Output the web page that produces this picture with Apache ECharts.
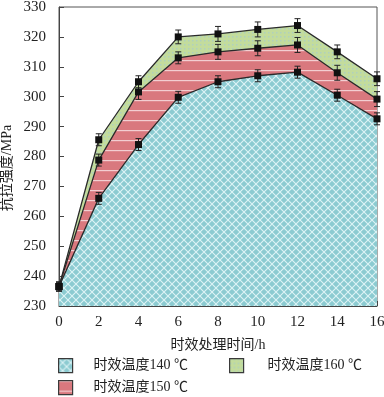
<!DOCTYPE html>
<html><head><meta charset="utf-8">
<script src="https://cdn.jsdelivr.net/npm/echarts@6/dist/echarts.min.js"></script>
<style>html,body{margin:0;padding:0;background:#fff}#c{width:384px;height:397px}</style>
</head><body><div id="c"></div>
<script>
var hours = [0, 2, 4, 6, 8, 10, 12, 14, 16];
var t140 = [236.5, 266.0, 284.0, 299.8, 305.0, 307.0, 308.2, 300.5, 292.6];
var t150 = [236.5, 278.8, 301.6, 313.0, 315.0, 316.2, 317.3, 308.0, 299.2];
var t160 = [236.5, 285.6, 305.0, 320.0, 321.0, 322.5, 323.8, 315.0, 306.0];
var e140 = [1.5, 2.0, 2.0, 2.0, 2.0, 2.0, 2.0, 2.0, 2.0];
var e150 = [1.5, 2.0, 2.5, 2.0, 2.5, 2.5, 2.5, 2.5, 2.5];
var e160 = [1.5, 2.0, 2.0, 2.3, 2.5, 2.5, 2.3, 2.3, 2.3];
var names = ['时效温度140 ℃', '时效温度150 ℃', '时效温度160 ℃'];
var yTitle = '抗拉强度/MPa';
var xTitle = '时效处理时间/h';
var yTicks = [230, 330, 10];
var xTicks = [0, 16, 2];

function mk(w, h, draw) {
  var c = document.createElement('canvas'); c.width = w; c.height = h;
  var g = c.getContext('2d'); draw(g, w, h); return c;
}
var patBlue = mk(8, 8, function (g, w, h) {
  g.fillStyle = '#8ccbd1'; g.fillRect(0, 0, w, h);
  g.strokeStyle = 'rgba(235,250,252,0.85)'; g.lineWidth = 1.1;
  g.beginPath();
  g.moveTo(-1, -1); g.lineTo(w + 1, h + 1);
  g.moveTo(-1, h + 1); g.lineTo(w + 1, -1);
  g.stroke();
});
var patRed = mk(8, 10, function (g, w, h) {
  g.fillStyle = '#d9787e'; g.fillRect(0, 0, w, h);
  g.fillStyle = 'rgba(245,215,218,0.9)'; g.fillRect(0, 0, w, 1.2);
});
var patGreen = mk(4, 4, function (g, w, h) {
  g.fillStyle = '#c3dc9c'; g.fillRect(0, 0, w, h);
  g.fillStyle = 'rgba(170,205,200,0.8)'; g.fillRect(0, 0, 1.5, 1.5);
});
var fills = [{ image: patBlue, repeat: 'repeat' }, { image: patRed, repeat: 'repeat' }, { image: patGreen, repeat: 'repeat' }];
var vals = [t140, t150, t160];
var errs = [e140, e150, e160];

function pairs(v) { return hours.map(function (h, i) { return [h, v[i]]; }); }

var series = [];
[2, 1, 0].forEach(function (k, order) {
  series.push({
    name: names[k], type: 'line', data: pairs(vals[k]), z: 2 + order,
    symbol: 'none', smooth: false,
    lineStyle: { color: '#2a2a2a', width: 1.3 },
    itemStyle: { color: '#333' },
    areaStyle: { color: fills[k], opacity: 1, origin: 'start' },
    silent: true
  });
});
var errData = [];
[0, 1, 2].forEach(function (k) {
  hours.forEach(function (h, i) { errData.push([h, vals[k][i], errs[k][i]]); });
});
series.push({
  type: 'custom', z: 10, silent: true,
  data: errData,
  renderItem: function (params, api) {
    var x = api.value(0), y = api.value(1), e = api.value(2);
    var top = api.coord([x, y + e]), bot = api.coord([x, y - e]), c = api.coord([x, y]);
    var st = { stroke: '#222', lineWidth: 1 };
    return {
      type: 'group', children: [
        { type: 'line', shape: { x1: top[0], y1: top[1], x2: bot[0], y2: bot[1] }, style: st },
        { type: 'line', shape: { x1: top[0] - 3, y1: top[1], x2: top[0] + 3, y2: top[1] }, style: st },
        { type: 'line', shape: { x1: bot[0] - 3, y1: bot[1], x2: bot[0] + 3, y2: bot[1] }, style: st },
        { type: 'rect', shape: { x: c[0] - 3.5, y: c[1] - 3.5, width: 7, height: 7 }, style: { fill: '#111' } }
      ]
    };
  }
});

var cjk = '"Liberation Serif", "Noto Sans CJK SC", serif';
function lg(name, left, top, pad) {
  return {
    left: left, top: top, orient: 'horizontal', itemWidth: 14, itemHeight: 14, itemGap: 0, padding: 0,
    textStyle: { fontFamily: cjk, fontSize: 14, color: '#222', padding: [0, 0, 0, pad] },
    data: [{ name: name, icon: 'rect', itemStyle: { color: fills[names.indexOf(name)], borderColor: '#3a3a3a', borderWidth: 1.2 }, lineStyle: { width: 0 } }]
  };
}

var chart = echarts.init(document.getElementById('c'), null, { renderer: 'canvas' });
chart.setOption({
  animation: false,
  backgroundColor: '#fff',
  grid: { left: 59, right: 7, top: 7, bottom: 91, containLabel: false, outerBoundsMode: 'none', show: true, borderColor: '#555', borderWidth: 1, backgroundColor: 'transparent' },
  legend: [lg(names[0], 58, 358, 16), lg(names[2], 229, 358, 19), lg(names[1], 58, 380, 16)],
  graphic: [{
    type: 'text', x: 7, y: 168, rotation: Math.PI / 2,
    style: { text: yTitle, font: '14px ' + cjk, fill: '#222', align: 'center', verticalAlign: 'middle' }
  }],
  xAxis: {
    type: 'value', min: xTicks[0], max: xTicks[1], interval: xTicks[2],
    name: xTitle, nameLocation: 'middle', nameGap: 32,
    nameTextStyle: { fontFamily: cjk, fontSize: 14, color: '#222' },
    axisLine: { show: true, onZero: false, lineStyle: { color: '#444', width: 1 } },
    axisTick: { show: true, inside: true, length: 5, lineStyle: { color: '#444' } },
    axisLabel: { fontFamily: '"Liberation Serif", serif', fontSize: 15, color: '#222', margin: 9 },
    splitLine: { show: false }
  },
  yAxis: {
    type: 'value', min: yTicks[0], max: yTicks[1], interval: yTicks[2],
    axisLine: { show: true, lineStyle: { color: '#444', width: 1 } },
    axisTick: { show: true, inside: true, length: 5, lineStyle: { color: '#444' } },
    axisLabel: { fontFamily: '"Liberation Serif", serif', fontSize: 15, color: '#222', margin: 13 },
    splitLine: { show: false }
  },
  series: series
});
</script></body></html>
